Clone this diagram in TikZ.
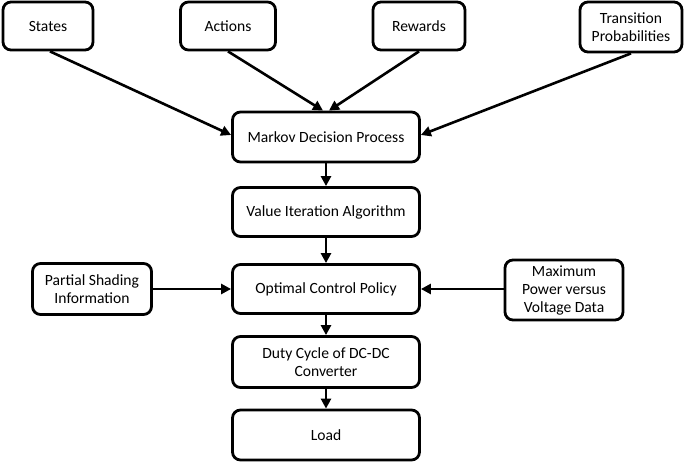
\documentclass[tikz,border=0pt]{standalone}
\usepackage{fontspec}
\setmainfont{Carlito}
\usetikzlibrary{arrows.meta}
\begin{document}
\begin{tikzpicture}[x=1pt,y=-1pt,
  box/.style={draw, line width=2.8pt, rounded corners=8pt, align=center, inner sep=0pt, font=\fontsize{15.6}{18}\selectfont},
  arr/.style={line width=2.6pt, -{Triangle[length=10pt,width=10pt]}}]
\useasboundingbox (0,0) rectangle (685,465);
\node[box, minimum width=90pt, minimum height=48pt] (states) at (48,26) {States};
\node[box, minimum width=95pt, minimum height=48pt] (actions) at (228,26) {Actions};
\node[box, minimum width=92pt, minimum height=48pt] (rewards) at (419,26) {Rewards};
\node[box, minimum width=102pt, minimum height=50pt] (trans) at (631,27) {Transition\\Probabilities};
\node[box, minimum width=187pt, minimum height=50pt] (mdp) at (326,137) {Markov Decision Process};
\node[box, minimum width=187pt, minimum height=49pt] (via) at (326,212) {Value Iteration Algorithm};
\node[box, minimum width=187pt, minimum height=49pt] (ocp) at (326,289) {Optimal Control Policy};
\node[box, minimum width=119pt, minimum height=51pt] (psi) at (92,289) {Partial Shading\\Information};
\node[box, minimum width=118pt, minimum height=60pt] (mpv) at (564,290) {Maximum\\Power versus\\Voltage Data};
\node[box, minimum width=187pt, minimum height=51pt] (duty) at (326,362) {Duty Cycle of DC-DC\\Converter};
\node[box, minimum width=187pt, minimum height=50pt] (load) at (326,435) {Load};
\draw[arr] (states.south -| 50,0) -- (mdp.west |- 0,135);
\draw[arr] (actions.south) -- (mdp.north -| 323,0);
\draw[arr] (rewards.south) -- (mdp.north -| 329,0);
\draw[arr] (trans.south) -- (mdp.east |- 0,135);
\draw[arr] (mdp) -- (via);
\draw[arr] (via) -- (ocp);
\draw[arr] (psi) -- (ocp);
\draw[arr] (mpv.west |- ocp) -- (ocp);
\draw[arr] (ocp) -- (duty);
\draw[arr] (duty) -- (load);
\end{tikzpicture}
\end{document}
